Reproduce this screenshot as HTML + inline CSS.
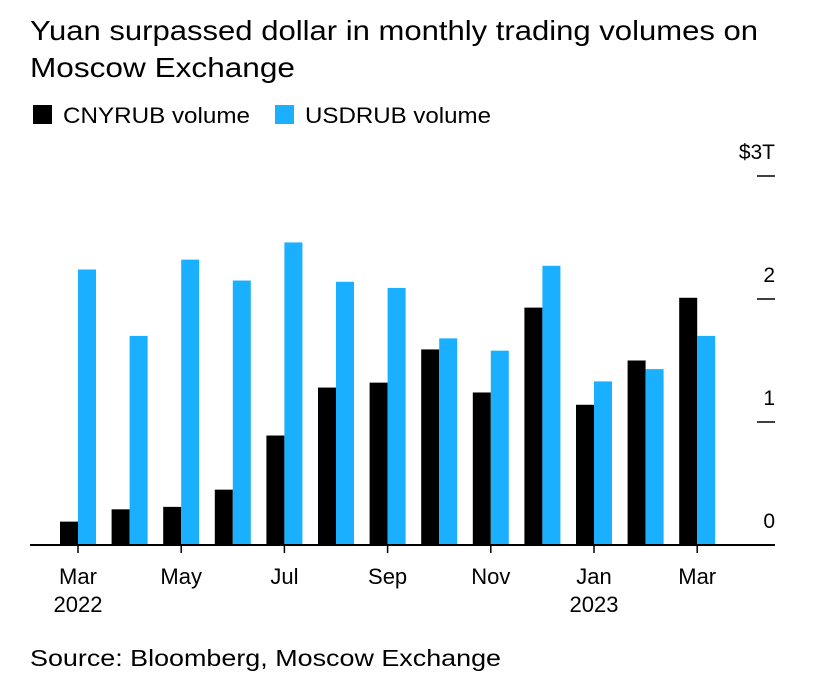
<!DOCTYPE html>
<html><head><meta charset="utf-8"><style>
body{margin:0;background:#fff;width:828px;height:689px;overflow:hidden;font-family:"Liberation Sans",Arial,sans-serif;}
</style></head><body>
<svg width="828" height="689" font-family="Liberation Sans, Arial, sans-serif">
<text x="30" y="40" font-size="28" textLength="728" lengthAdjust="spacingAndGlyphs" fill="#000">Yuan surpassed dollar in monthly trading volumes on</text>
<text x="30" y="77" font-size="28" textLength="265" lengthAdjust="spacingAndGlyphs" fill="#000">Moscow Exchange</text>
<rect x="33" y="105" width="19" height="19" fill="#000"/>
<text x="63" y="123" font-size="22" textLength="187" lengthAdjust="spacingAndGlyphs">CNYRUB volume</text>
<rect x="275" y="105" width="19" height="19" fill="#1ab0ff"/>
<text x="305" y="123" font-size="22" textLength="186" lengthAdjust="spacingAndGlyphs">USDRUB volume</text>
<g id="plot"></g>
<text x="30" y="666" font-size="23" textLength="471" lengthAdjust="spacingAndGlyphs">Source: Bloomberg, Moscow Exchange</text>
</svg>
<script>
const months = ["Mar 2022","Apr 2022","May 2022","Jun 2022","Jul 2022","Aug 2022","Sep 2022","Oct 2022","Nov 2022","Dec 2022","Jan 2023","Feb 2023","Mar 2023"];
const cnyrub = [0.19,0.29,0.31,0.45,0.89,1.28,1.32,1.59,1.24,1.93,1.14,1.50,2.01];
const usdrub = [2.24,1.70,2.32,2.15,2.46,2.14,2.09,1.68,1.58,2.27,1.33,1.43,1.70];
const yTicks = [0,1,2,3];
const yTickLabels = ["0","1","2","$3T"];
const xLabels = [["Mar","2022"],null,["May"],null,["Jul"],null,["Sep"],null,["Nov"],null,["Jan","2023"],null,["Mar"]];
const NS="http://www.w3.org/2000/svg";
const g=document.getElementById('plot');
const y=v=>545-v*123;
const x=i=>78+i*51.6;
function mk(t,a){const e=document.createElementNS(NS,t);for(const k in a)e.setAttribute(k,a[k]);g.appendChild(e);return e;}
yTicks.forEach((v,i)=>{
  if(v>0){const l=mk('line',{x1:757,x2:775,y1:y(v),y2:y(v),stroke:'#000','stroke-width':1.5});
  
  }
  const t=mk('text',{x:775,y:y(v)-17,'font-size':21,'text-anchor':'end'});
  t.textContent=yTickLabels[i];
  
  
});
months.forEach((m,i)=>{
  const b=mk('rect',{x:x(i)-18,y:y(cnyrub[i]),width:18,height:y(0)-y(cnyrub[i]),fill:'#000'});
  
  
  const u=mk('rect',{x:x(i),y:y(usdrub[i]),width:18,height:y(0)-y(usdrub[i]),fill:'#1ab0ff'});
  
  
  const lab=xLabels[i];
  if(lab){
    const tk=mk('line',{x1:x(i),x2:x(i),y1:545,y2:553,stroke:'#000','stroke-width':1.5});
    
    
    lab.forEach((s,j)=>{
      const t=mk('text',{x:x(i),y:584+j*28,'font-size':22,'text-anchor':'middle'});
      t.textContent=s;
      
      
    });
  }
});
const base=mk('line',{x1:30,x2:775,y1:545,y2:545,stroke:'#000','stroke-width':2});


</script>
</body></html>
